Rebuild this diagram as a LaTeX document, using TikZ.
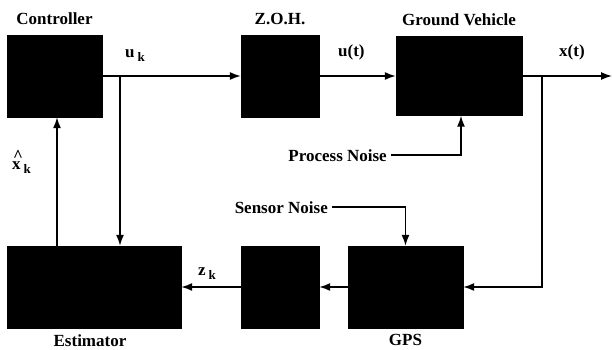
\documentclass[tikz,border=0pt]{standalone}
\usepackage{fontspec}
\setmainfont{Liberation Serif}
\usetikzlibrary{arrows.meta}
\usetikzlibrary{positioning}
\newcommand{\lowk}{\kern3pt\raisebox{-4pt}{\fontsize{13}{15}\selectfont k}}
\begin{document}
\begin{tikzpicture}[x=1pt,y=-1pt,font=\fontsize{17}{20}\selectfont\bfseries]
  \tikzset{block/.style={rectangle, draw, fill=black, inner sep=0pt}}
  \tikzset{title/.style={inner sep=0pt}}
  \tikzset{sig/.style={-{Latex[length=11pt,width=8pt]}, line width=1.5pt}}
  \tikzset{noise/.style={inner xsep=4pt, inner ysep=0pt}}
  \useasboundingbox (0,0) rectangle (612,350);
  % top row
  \node[block, minimum width=95pt, minimum height=82pt] (ctrl) at (54.5,76) {};
  \node[block, minimum width=78pt, minimum height=82pt] (zoh) at (280,76) {};
  \node[block, minimum width=126pt, minimum height=79pt] (gv) at (459,76) {};
  % bottom row
  \node[block, minimum width=174pt, minimum height=82pt] (est) at (94,287) {};
  \node[block, minimum width=78pt, minimum height=82pt] (hold) at (280,287) {};
  \node[block, minimum width=115pt, minimum height=82pt] (gps) at (405.5,287) {};
  % titles
  \node[title] (ctrltxt) [above=10pt of ctrl] {Controller};
  \node[title] (zohtxt) [above=10pt of zoh] {Z.O.H.};
  \node[title] (gvtxt) [above=10pt of gv] {Ground Vehicle};
  \node[title] (esttxt) [below=6pt of est, xshift=-4pt] {Estimator};
  \node[title] (gpstxt) [below=6pt of gps] {GPS};
  % signals
  \node[title, anchor=base west] (uk) at (125,58) {u\lowk};
  \node[title, anchor=base west] (ut) at (338,57) {u(t)};
  \node[title, anchor=base west] (xt) at (559,57) {x(t)};
  \node[title, anchor=base west] (xk) at (12,169) {\rlap{\raisebox{8pt}{\kern1pt\^{}}}x\lowk};
  \node[title, anchor=base west] (zk) at (198,275) {z\lowk};
  \node[noise, anchor=base east] (pn) at (391,161) {Process Noise};
  \node[noise, anchor=base east] (sn) at (332,213) {Sensor Noise};
  \coordinate (ub) at (120,76);
  \coordinate (xb) at (542,76);
  \coordinate (out) at (612,76);
  \coordinate (xh) at (57,0);
  \draw[sig] (ctrl.east) -- (zoh.west);
  \draw[sig] (zoh.east) -- (gv.west);
  \draw[sig] (gv.east) -- (out);
  \draw[sig] (ub) -- (ub |- est.north);
  \draw[sig] (xb) |- (gps.east);
  \draw[sig] (pn.east) -| ([xshift=2pt]gv.south);
  \draw[sig] (sn.east) -| (gps.north);
  \draw[sig] (gps.west) -- (hold.east);
  \draw[sig] (hold.west) -- (est.east);
  \draw[sig] (est.north -| xh) -- (ctrl.south -| xh);
\end{tikzpicture}
\end{document}
